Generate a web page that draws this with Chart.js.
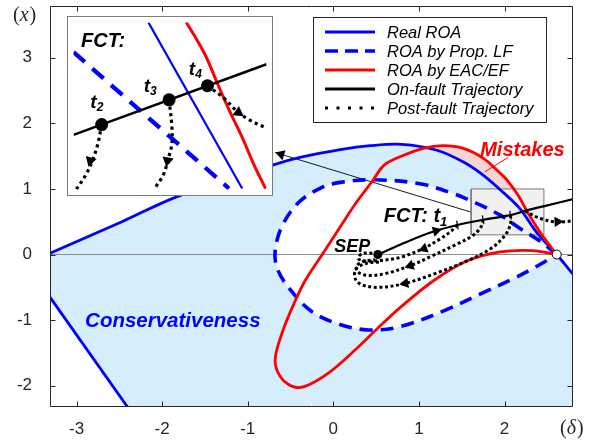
<!DOCTYPE html>
<html>
<head>
<meta charset="utf-8">
<script src="https://cdn.jsdelivr.net/npm/chart.js@4.4.1/dist/chart.umd.min.js"></script>
<style>
  html, body { margin: 0; padding: 0; background: #ffffff; overflow: hidden; }
  #wrap { position: relative; width: 601px; height: 445px; }
  #main { position: absolute; left: 0; top: 0; }
  #inset { position: absolute; left: 67px; top: 16px; }
</style>
</head>
<body>
<div id="wrap">
  <canvas id="main" width="601" height="445"></canvas>
  <canvas id="inset" width="206" height="180"></canvas>
</div>
<script>
// ================= data =================
const xTicks = [-3, -2, -1, 0, 1, 2];
const yTicks = [-2, -1, 0, 1, 2, 3];
const xRange = [-3.31, 2.80];
const yRange = [-2.31, 3.79];

// Real ROA (solid blue): upper boundary and lower-left boundary
const realRoaUpper = [[-3.50,-0.08],[-3.31,0.02],[-2.47,0.50],[-1.83,0.88],[-0.72,1.36],[-0.39,1.48],
  [0.08,1.60],[0.43,1.66],[0.80,1.68],[1.21,1.59],[1.52,1.41],[1.75,1.21],[1.99,0.94],[2.18,0.70],
  [2.38,0.33],[2.61,0.00],[2.80,-0.30],[2.90,-0.45]];
const realRoaLower = [[-3.50,-0.30],[-2.31,-2.50]];

// ROA by proposed LF (dashed blue, closed)
const propLfRoa = [[2.61,0.00],[2.42,0.20],[2.19,0.39],[1.95,0.60],[1.64,0.80],[1.40,0.93],[1.01,1.08],
  [0.47,1.14],[0.08,1.10],[-0.12,1.03],[-0.40,0.80],[-0.60,0.43],[-0.68,0.05],[-0.65,-0.23],[-0.50,-0.54],
  [-0.26,-0.86],[0.06,-1.06],[0.41,-1.15],[0.78,-1.10],[1.29,-0.86],[1.72,-0.60],[2.10,-0.37],[2.35,-0.20],[2.61,0.00]];

// ROA by EAC/EF (red, closed)
const eacEfRoa = [[2.61,0.00],[2.55,0.10],[2.42,0.33],[2.28,0.62],[2.16,0.90],[2.04,1.12],[1.95,1.24],
  [1.75,1.47],[1.52,1.62],[1.28,1.66],[1.05,1.62],[0.815,1.51],[0.60,1.37],[0.45,1.11],[0.25,0.76],
  [0.07,0.40],[-0.13,0.00],[-0.33,-0.40],[-0.46,-0.75],[-0.60,-1.20],[-0.68,-1.61],[-0.62,-1.86],
  [-0.48,-2.01],[-0.33,-2.01],[-0.05,-1.80],[0.25,-1.46],[0.53,-1.11],[0.78,-0.81],[1.17,-0.40],
  [1.56,-0.10],[1.95,0.04],[2.33,0.06],[2.61,0.00]];
const mistakesEdge = eacEfRoa.slice(0, 12).reverse();

// trajectories
const onFault = [[0.52,0.00],[0.87,0.20],[1.17,0.35],[1.45,0.45],[1.75,0.53],[2.07,0.60],[2.24,0.665],[2.50,0.75],[2.85,0.86]];
const postFaultT1 = [[1.45,0.45],[1.37,0.35],[1.25,0.24],[1.05,0.09],[0.78,-0.045],[0.55,-0.09],[0.37,-0.10],[0.29,-0.06],[0.34,0.015],[0.46,0.02]];
const postFaultT2 = [[1.75,0.53],[1.72,0.41],[1.63,0.29],[1.43,0.15],[1.14,-0.03],[0.90,-0.17],[0.61,-0.29],[0.41,-0.32],[0.29,-0.27],[0.27,-0.18],[0.34,-0.11],[0.49,-0.08]];
const postFaultT3 = [[2.07,0.60],[2.07,0.47],[2.01,0.30],[1.84,0.09],[1.54,-0.11],[1.19,-0.29],[0.84,-0.44],[0.55,-0.50],[0.35,-0.47],[0.26,-0.38],[0.26,-0.23],[0.37,-0.14],[0.55,-0.11]];
const postFaultT4 = [[2.24,0.665],[2.33,0.60],[2.42,0.55],[2.57,0.50],[2.70,0.50],[2.82,0.52]];
const fctMarks = [[1.45,0.45],[1.75,0.53],[2.07,0.60]];
const sepPoint = [[0.52,0.00]];
const uepPoint = [[2.61,0.00]];
// arrowheads: [x, y, towardX, towardY]
const arrowsMain = [[1.20,0.36,1.45,0.45],[1.06,0.09,0.78,-0.045],[0.90,-0.17,0.61,-0.29],
  [0.84,-0.44,0.55,-0.50],[2.62,0.50,2.81,0.51],[-0.61,1.528,-0.68,1.556]];

const zoomBox = [[1.61,0.30],[2.46,0.30],[2.46,1.00],[1.61,1.00],[1.61,0.30]];
const zoomPointer = [[1.60,0.65],[-0.68,1.556]];
const mistakesPointer = [[2.04,1.48],[1.77,1.26]];
const zeroLine = [[-3.31,0],[2.80,0]];

// inset (zoom of the grey box)
const insetXRange = [1.61, 2.46];
const insetYRange = [0.30, 1.00];
const insetOnFault = [[1.61,0.529],[2.46,0.825]];
const insetPropLf = [[1.61,0.876],[2.295,0.304]];
const insetRealRoa = [[1.94,1.00],[2.353,0.304]];
const insetEacEf = [[2.105,1.004],[2.188,0.868],[2.241,0.751],[2.295,0.634],[2.353,0.518],[2.406,0.401],[2.456,0.304]];
const insetFct = [[1.734,0.572],[2.031,0.676],[2.200,0.735]];
const insetPost2 = [[1.734,0.572],[1.717,0.49],[1.696,0.428],[1.667,0.366],[1.627,0.307],[1.61,0.285]];
const insetPost3 = [[2.031,0.676],[2.043,0.568],[2.043,0.49],[2.027,0.428],[2.006,0.362],[1.973,0.312],[1.965,0.30]];
const insetPost4 = [[2.200,0.735],[2.270,0.685],[2.324,0.634],[2.377,0.596],[2.46,0.557]];
const insetArrows = [[1.684,0.421,1.667,0.366],[2.024,0.421,2.016,0.38],[2.336,0.623,2.377,0.596]];

const legendLabels = ['Real ROA','ROA by Prop. LF','ROA by EAC/EF','On-fault Trajectory','Post-fault Trajectory'];

// ================= helpers =================
const SANS = '"Liberation Sans", Arial, Helvetica, sans-serif';
const SERIF = '"Liberation Serif", "Times New Roman", serif';
const T = 0.35;
const pts = a => a.map(p => ({x: p[0], y: p[1]}));
function lineDs(data, o) {
  return Object.assign({data: pts(data), showLine: true, pointRadius: 0, pointHoverRadius: 0,
    fill: false, tension: 0, borderCapStyle: 'butt', borderJoinStyle: 'round',
    capBezierPoints: false, clip: 0}, o);
}
function fillDs(data, color, fill, tension) {
  return lineDs(data, {backgroundColor: color, borderColor: 'rgba(0,0,0,0)', borderWidth: 0, fill: fill, tension: tension || 0});
}
function arrowRotation(list) {
  return ctx => {
    const q = list[ctx.dataIndex];
    const xs = ctx.chart.scales.x, ys = ctx.chart.scales.y;
    const dx = xs.getPixelForValue(q[2]) - xs.getPixelForValue(q[0]);
    const dy = ys.getPixelForValue(q[3]) - ys.getPixelForValue(q[1]);
    return Math.atan2(dy, dx) * 180 / Math.PI + 90;
  };
}
function markRotation(list) {
  return ctx => {
    const a = list[0], b = list[list.length - 1];
    const xs = ctx.chart.scales.x, ys = ctx.chart.scales.y;
    const dx = xs.getPixelForValue(b[0]) - xs.getPixelForValue(a[0]);
    const dy = ys.getPixelForValue(b[1]) - ys.getPixelForValue(a[1]);
    return Math.atan2(dy, dx) * 180 / Math.PI + 90;
  };
}
function rich(ctx, x, y, parts, color) {
  ctx.fillStyle = color;
  ctx.textBaseline = 'alphabetic';
  ctx.textAlign = 'left';
  let cx = x;
  parts.forEach(p => {
    ctx.font = p.font;
    ctx.fillText(p.t, cx, y + (p.dy || 0));
    cx += ctx.measureText(p.t).width + (p.gap || 0);
  });
}

// ================= main chart =================
const ds = [];
ds.push(fillDs(mistakesEdge, '#F3D6D4', 'start', T));
ds.push(fillDs(realRoaUpper, '#D6EEFC', 'start', T));
ds.push(fillDs(realRoaLower, '#FFFFFF', 'start', 0));
ds.push(fillDs(propLfRoa, '#FFFFFF', 'shape', T));
ds.push(lineDs(zoomBox, {backgroundColor: '#F0F0F0', borderColor: '#7A7A7A', borderWidth: 1, fill: 'shape'}));
ds.push(lineDs(zeroLine, {borderColor: '#8C8C8C', borderWidth: 1}));
ds.push(lineDs(zoomPointer, {borderColor: '#1A1A1A', borderWidth: 1}));
ds.push(lineDs(mistakesPointer, {borderColor: '#FF0000', borderWidth: 1}));
ds.push(lineDs(realRoaUpper, {borderColor: '#0000FF', borderWidth: 2.8, tension: T}));
ds.push(lineDs(realRoaLower, {borderColor: '#0000FF', borderWidth: 2.8}));
ds.push(lineDs(propLfRoa, {borderColor: '#0000FF', borderWidth: 3.6, borderDash: [13, 8], tension: T}));
ds.push(lineDs(eacEfRoa, {borderColor: '#FF0000', borderWidth: 2.8, tension: T}));
ds.push(lineDs(onFault, {borderColor: '#000000', borderWidth: 2.2, tension: T}));
[postFaultT1, postFaultT2, postFaultT3, postFaultT4].forEach(d =>
  ds.push(lineDs(d, {borderColor: '#000000', borderWidth: 3, borderDash: [3, 2.6], tension: T})));
ds.push({data: pts(arrowsMain), showLine: false, pointStyle: 'triangle', pointRadius: 6, pointHoverRadius: 6,
  backgroundColor: '#000000', borderColor: '#000000', borderWidth: 0, rotation: arrowRotation(arrowsMain), clip: 0});
ds.push({data: pts(fctMarks), showLine: false, pointStyle: 'line', pointRadius: 4.5, pointHoverRadius: 4.5,
  borderColor: '#000000', borderWidth: 1.2, rotation: markRotation(fctMarks), clip: 0});
ds.push({data: pts(sepPoint), showLine: false, pointStyle: 'circle', pointRadius: 4.5, pointHoverRadius: 4.5,
  backgroundColor: '#000000', borderColor: '#000000', borderWidth: 0, clip: 0});
ds.push({data: pts(uepPoint), showLine: false, pointStyle: 'circle', pointRadius: 4.5, pointHoverRadius: 4.5,
  backgroundColor: '#FFFFFF', borderColor: '#000000', borderWidth: 1, clip: 0});
ds.forEach((d, i) => { d.order = ds.length - i; });

const legendStyles = [
  {color: '#0000FF', width: 3, dash: []},
  {color: '#0000FF', width: 3.5, dash: [13, 7]},
  {color: '#FF0000', width: 3, dash: []},
  {color: '#000000', width: 3, dash: []},
  {color: '#000000', width: 3, dash: [3, 8.5]}
];

const mainDecor = {
  id: 'mainDecor',
  afterDraw(chart) {
    const {ctx, chartArea: a, scales: {x, y}} = chart;
    ctx.save();
    // frame + inward ticks (MATLAB box)
    ctx.strokeStyle = '#262626';
    ctx.lineWidth = 1;
    ctx.setLineDash([]);
    ctx.beginPath();
    const L = a.left + 0.5, R = a.right - 0.5, TP = a.top + 0.5, B = a.bottom + 0.5;
    ctx.moveTo(L, TP); ctx.lineTo(R, TP); ctx.lineTo(R, B); ctx.lineTo(L, B); ctx.closePath();
    xTicks.forEach(v => {
      const p = Math.round(x.getPixelForValue(v)) + 0.5;
      ctx.moveTo(p, B); ctx.lineTo(p, B - 5);
      ctx.moveTo(p, TP); ctx.lineTo(p, TP + 5);
    });
    yTicks.forEach(v => {
      const p = Math.round(y.getPixelForValue(v)) + 0.5;
      ctx.moveTo(L, p); ctx.lineTo(L + 5, p);
      ctx.moveTo(R, p); ctx.lineTo(R - 5, p);
    });
    ctx.stroke();

    // axis names
    const up = '20px ' + SERIF, it = 'italic 20px ' + SERIF;
    rich(ctx, 13, 21, [{t: '(', font: up}, {t: 'x', font: it, gap: 1}, {t: ')', font: up}], '#262626');
    rich(ctx, 560, 434, [{t: '(', font: up}, {t: '\u03B4', font: it, gap: 1}, {t: ')', font: up}], '#262626');

    // annotations
    const bi = s => 'italic bold ' + s + 'px ' + SANS;
    rich(ctx, x.getPixelForValue(1.716), y.getPixelForValue(1.51), [{t: 'Mistakes', font: bi(20)}], '#FF0000');
    rich(ctx, x.getPixelForValue(-2.90), y.getPixelForValue(-1.11), [{t: 'Conservativeness', font: bi(20.5)}], '#0000FF');
    rich(ctx, x.getPixelForValue(0.01), y.getPixelForValue(0.035), [{t: 'SEP', font: bi(18)}], '#000000');
    rich(ctx, x.getPixelForValue(0.59), y.getPixelForValue(0.50),
      [{t: 'FCT: ', font: bi(20)}, {t: 't', font: bi(20)}, {t: '1', font: bi(13), dy: 4}], '#000000');

    // legend
    const bx = 313.5, by = 17.5, bw = 233, bh = 105;
    ctx.fillStyle = '#FFFFFF';
    ctx.fillRect(bx, by, bw, bh);
    ctx.strokeStyle = '#262626';
    ctx.lineWidth = 1;
    ctx.strokeRect(bx, by, bw, bh);
    const rowsY = [32, 51, 70, 89, 108];
    legendLabels.forEach((lab, i) => {
      const st = legendStyles[i];
      ctx.beginPath();
      ctx.strokeStyle = st.color;
      ctx.lineWidth = st.width;
      ctx.lineCap = 'butt';
      ctx.setLineDash(st.dash);
      ctx.moveTo(325, rowsY[i]); ctx.lineTo(375, rowsY[i]);
      ctx.stroke();
      ctx.setLineDash([]);
      rich(ctx, 387, rowsY[i] + 6, [{t: lab, font: 'italic 16.5px ' + SANS}], '#000000');
    });
    ctx.restore();
  }
};

new Chart(document.getElementById('main'), {
  type: 'scatter',
  data: {datasets: ds},
  options: {
    responsive: false,
    animation: false,
    events: [],
    layout: {padding: {left: 0, right: 28, top: 2, bottom: 0}},
    scales: {
      x: {
        type: 'linear', min: xRange[0], max: xRange[1],
        afterBuildTicks: s => { s.ticks = xTicks.map(v => ({value: v})); },
        afterFit: s => { s.height = 39; s.paddingLeft = 0; s.paddingRight = 0; s.paddingTop = 0; s.paddingBottom = 0; },
        grid: {display: false, drawTicks: false},
        border: {display: false},
        ticks: {color: '#262626', font: {family: SANS, size: 17}, padding: 13, maxRotation: 0, autoSkip: false}
      },
      y: {
        type: 'linear', min: yRange[0], max: yRange[1],
        afterBuildTicks: s => { s.ticks = yTicks.map(v => ({value: v})); },
        afterFit: s => { s.width = 50; s.paddingLeft = 0; s.paddingRight = 0; s.paddingTop = 0; s.paddingBottom = 0; },
        grid: {display: false, drawTicks: false},
        border: {display: false},
        ticks: {color: '#262626', font: {family: SANS, size: 17}, padding: 18, autoSkip: false}
      }
    },
    plugins: {legend: {display: false}, tooltip: {enabled: false}}
  },
  plugins: [mainDecor]
});

// ================= inset chart =================
const ids = [];
ids.push(lineDs(insetPropLf, {borderColor: '#0000FF', borderWidth: 4.3, borderDash: [15, 10]}));
ids.push(lineDs(insetRealRoa, {borderColor: '#0000FF', borderWidth: 2.2}));
ids.push(lineDs(insetEacEf, {borderColor: '#FF0000', borderWidth: 3, tension: T}));
ids.push(lineDs(insetOnFault, {borderColor: '#000000', borderWidth: 2.5}));
[insetPost2, insetPost3, insetPost4].forEach(d =>
  ids.push(lineDs(d, {borderColor: '#000000', borderWidth: 3.2, borderDash: [3.2, 3.5], tension: T})));
ids.push({data: pts(insetArrows), showLine: false, pointStyle: 'triangle', pointRadius: 6.5, pointHoverRadius: 6.5,
  backgroundColor: '#000000', borderColor: '#000000', borderWidth: 0, rotation: arrowRotation(insetArrows), clip: 0});
ids.push({data: pts(insetFct), showLine: false, pointStyle: 'circle', pointRadius: 6.5, pointHoverRadius: 6.5,
  backgroundColor: '#000000', borderColor: '#000000', borderWidth: 0, clip: 0});
ids.forEach((d, i) => { d.order = ids.length - i; });

const insetDecor = {
  id: 'insetDecor',
  beforeDraw(chart) {
    const {ctx} = chart;
    ctx.save(); ctx.fillStyle = '#FFFFFF'; ctx.fillRect(0, 0, chart.width, chart.height); ctx.restore();
  },
  afterDraw(chart) {
    const {ctx, scales: {x, y}} = chart;
    ctx.save();
    const bi = s => 'italic bold ' + s + 'px ' + SANS;
    rich(ctx, x.getPixelForValue(1.643), y.getPixelForValue(0.899), [{t: 'FCT:', font: bi(20)}], '#000000');
    const tl = [[1.684, 0.642, '2'], [1.919, 0.708, '3'], [2.118, 0.778, '4']];
    tl.forEach(q => rich(ctx, x.getPixelForValue(q[0]), y.getPixelForValue(q[1]),
      [{t: 't', font: bi(19)}, {t: q[2], font: bi(12), dy: 3}], '#000000'));
    ctx.strokeStyle = '#7A7A7A';
    ctx.lineWidth = 1;
    ctx.setLineDash([]);
    ctx.strokeRect(0.5, 0.5, chart.width - 1, chart.height - 1);
    ctx.restore();
  }
};

new Chart(document.getElementById('inset'), {
  type: 'scatter',
  data: {datasets: ids},
  options: {
    responsive: false,
    animation: false,
    events: [],
    layout: {padding: 0},
    scales: {
      x: {type: 'linear', display: false, min: insetXRange[0], max: insetXRange[1]},
      y: {type: 'linear', display: false, min: insetYRange[0], max: insetYRange[1]}
    },
    plugins: {legend: {display: false}, tooltip: {enabled: false}}
  },
  plugins: [insetDecor]
});
</script>
</body>
</html>
